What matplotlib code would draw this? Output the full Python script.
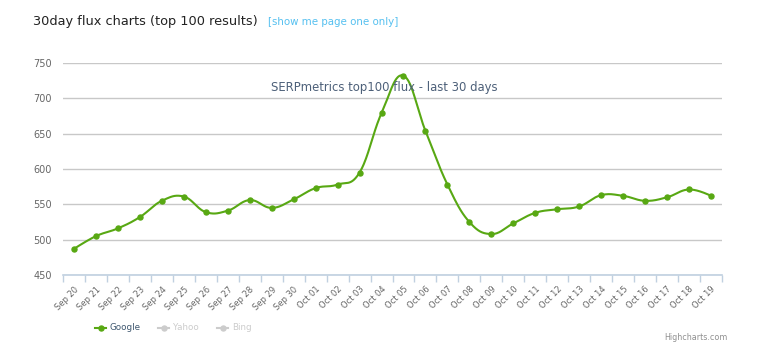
import numpy as np
import matplotlib
matplotlib.use('Agg')
import matplotlib.pyplot as plt
from matplotlib.lines import Line2D

dates = ['Sep 20', 'Sep 21', 'Sep 22', 'Sep 23', 'Sep 24', 'Sep 25', 'Sep 26',
         'Sep 27', 'Sep 28', 'Sep 29', 'Sep 30', 'Oct 01', 'Oct 02', 'Oct 03',
         'Oct 04', 'Oct 05', 'Oct 06', 'Oct 07', 'Oct 08', 'Oct 09', 'Oct 10',
         'Oct 11', 'Oct 12', 'Oct 13', 'Oct 14', 'Oct 15', 'Oct 16', 'Oct 17',
         'Oct 18', 'Oct 19']
google = [487, 505, 516, 532, 555, 561, 539, 541, 556, 545, 557, 573, 578,
          595, 679, 732, 654, 578, 525, 508, 523, 538, 543, 547, 563, 562,
          555, 560, 571, 562]
legend_names = ['Google', 'Yahoo', 'Bing']

GREEN = '#58a813'
TEXT = '#3e576f'


def spline(xs, ys, n=30):
    # highcharts-style spline: bezier segments through every point
    sm = 1.5
    k = len(xs)
    lc = [None] * k
    rc = [None] * k
    for i in range(1, k - 1):
        lx = (sm * xs[i] + xs[i - 1]) / (sm + 1)
        ly = (sm * ys[i] + ys[i - 1]) / (sm + 1)
        rx = (sm * xs[i] + xs[i + 1]) / (sm + 1)
        ry = (sm * ys[i] + ys[i + 1]) / (sm + 1)
        corr = (ry - ly) * (rx - xs[i]) / (rx - lx) + ys[i] - ry
        lc[i] = (lx, ly + corr)
        rc[i] = (rx, ry + corr)
    rc[0] = (xs[0], ys[0])
    lc[k - 1] = (xs[-1], ys[-1])
    px, py = [], []
    t = np.linspace(0, 1, n)
    for i in range(k - 1):
        p0 = np.array([xs[i], ys[i]])
        p1 = np.array(rc[i])
        p2 = np.array(lc[i + 1])
        p3 = np.array([xs[i + 1], ys[i + 1]])
        seg = ((1 - t) ** 3)[:, None] * p0 + (3 * (1 - t) ** 2 * t)[:, None] * p1 \
            + (3 * (1 - t) * t ** 2)[:, None] * p2 + (t ** 3)[:, None] * p3
        px.extend(seg[:, 0]); py.extend(seg[:, 1])
    return px, py


fig = plt.figure(figsize=(7.6, 3.54), dpi=100)
ax = fig.add_axes([63 / 760, 1 - 275 / 354, 659 / 760, 212 / 354])

x = np.arange(len(dates))
sx, sy = spline(list(x.astype(float)), google)
ax.plot(sx, sy, color=GREEN, lw=1.5, zorder=3, clip_on=False)
ax.plot(x, google, 'o', color=GREEN, ms=3.6, zorder=4, clip_on=False)

ax.set_xlim(-0.5, len(dates) - 0.5)
ax.set_ylim(450, 750)
ax.set_yticks(np.arange(450, 751, 50))
ax.set_xticks(x)
ax.set_xticklabels(dates, rotation=45, ha='right', rotation_mode='anchor',
                   fontsize=6, color='#666666')
ax.set_xticks(np.arange(-0.5, len(dates)), minor=True)
ax.tick_params(axis='x', which='major', length=0, pad=7)
ax.tick_params(axis='x', which='minor', length=5, color='#c0d0e0', width=1)
ax.tick_params(axis='y', length=0, labelsize=7, labelcolor='#666666', pad=8)
ax.grid(axis='y', color='#c8c8c8', lw=1)
ax.set_axisbelow(True)
for s in ['top', 'right', 'left']:
    ax.spines[s].set_visible(False)
ax.spines['bottom'].set_color('#c0d0e0')
ax.spines['bottom'].set_linewidth(1.2)

fig.text(384 / 760, 1 - 87 / 354, 'SERPmetrics top100 flux - last 30 days',
         ha='center', va='center', fontsize=8.4, color='#4d6079', zorder=2)

fig.text(33 / 760, 1 - 21 / 354, '30day flux charts (top 100 results)',
         ha='left', va='center', fontsize=9.3, color='#222222')
fig.text(268 / 760, 1 - 22 / 354, '[show me page one only]',
         ha='left', va='center', fontsize=7.4, color='#55c0f0')

# legend
ly = 1 - 328 / 354
cols = [GREEN, '#cccccc', '#cccccc']
tcols = [TEXT, '#cccccc', '#cccccc']
starts = [95, 158, 217]
for name, c, tc, sx0 in zip(legend_names, cols, tcols, starts):
    fig.add_artist(Line2D([sx0 / 760, (sx0 + 11) / 760], [ly, ly], color=c,
                          lw=1.5))
    fig.add_artist(Line2D([(sx0 + 5.5) / 760], [ly], color=c, marker='o', ms=3.6))
    fig.text((sx0 + 15) / 760, ly, name, ha='left', va='center',
             fontsize=6.3, color=tc)

fig.text(728 / 760, 1 - 338 / 354, 'Highcharts.com', ha='right', va='center',
         fontsize=5.8, color='#909090')

fig.savefig('out.png', dpi=100, facecolor='white')
